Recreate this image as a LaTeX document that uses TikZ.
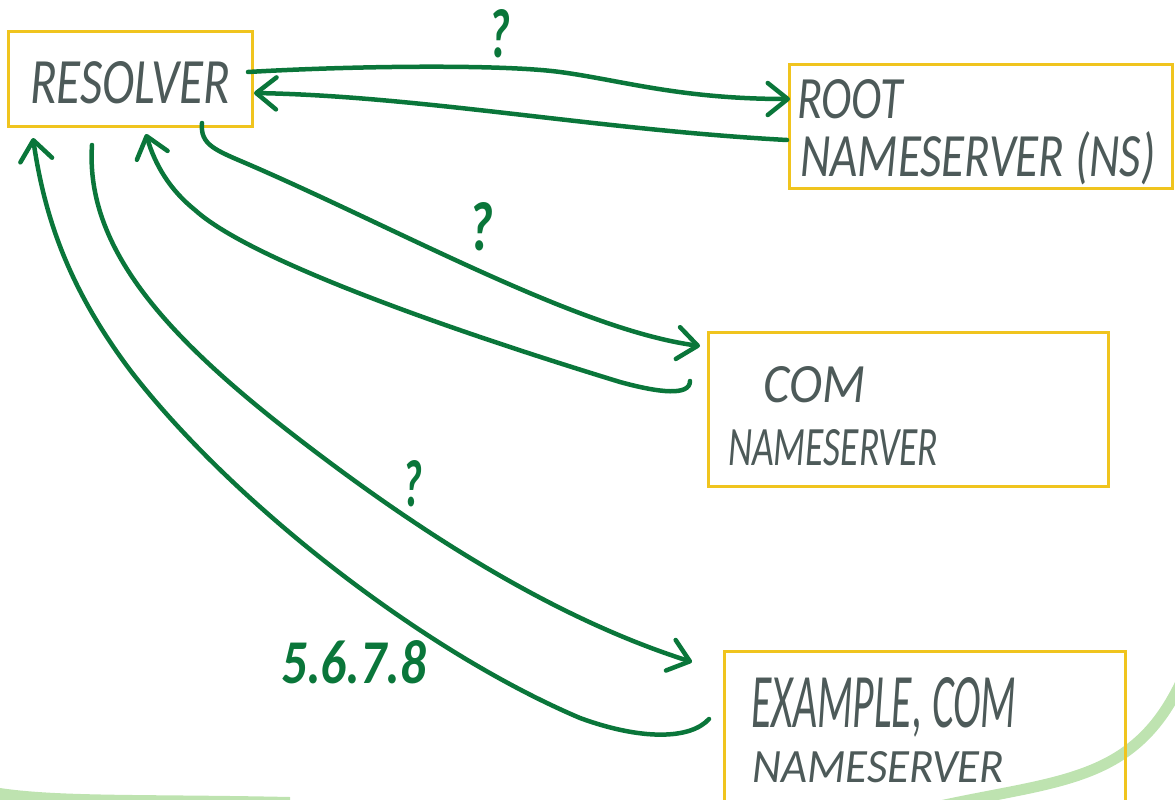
\documentclass[tikz,border=0pt]{standalone}
\usepackage{fontspec}
\usepackage{graphicx}
\newfontfamily\handfont{Carlito}
\usetikzlibrary{arrows.meta}
\definecolor{boxyellow}{RGB}{240,196,30}
\definecolor{ink}{RGB}{77,90,89}
\definecolor{pen}{RGB}{10,118,58}
\definecolor{hilite}{RGB}{190,227,176}
\newcommand{\hw}[3]{\resizebox{#1pt}{#2pt}{\handfont\itshape #3}}
\newcommand{\hwb}[3]{\resizebox{#1pt}{#2pt}{\handfont\itshape\bfseries #3}}
\begin{document}
\begin{tikzpicture}[x=1pt,y=-1pt,
  box/.style={draw=boxyellow,line width=3pt,inner sep=0pt,fill=none},
  txt/.style={text=ink,inner sep=0pt,anchor=base west},
  lbl/.style={text=pen,inner sep=0pt,anchor=base west},
  flow/.style={draw=pen,line width=4.5pt,line cap=round,line join=round,
    -{Straight Barb[length=20pt,width=32pt,round]}}]
\useasboundingbox (0,0) rectangle (1175,800);

% light green highlighter strokes
\fill[hilite] (0,788) .. controls (60,797) and (150,794) .. (290,797) -- (290,800) -- (0,800) -- cycle;
\draw[hilite,line width=11pt,line cap=round] (940,806) .. controls (1060,780) and (1135,782) .. (1182,680);

% boxes
\node[box,minimum width=244pt,minimum height=94pt] (res) at (130,79) {};
\node[box,minimum width=383pt,minimum height=123pt] (root) at (981,126.5) {};
\node[box,minimum width=400pt,minimum height=154pt] (com) at (908,409) {};
\node[box,minimum width=401pt,minimum height=180pt] (ex) at (925,741) {};

% texts
\node[txt] (tres) at (30,103) {\hw{200}{42}{RESOLVER}};
\node[txt] (troot) at (797,118) {\hw{106}{39}{ROOT}};
\node[txt] (troot2) at (800,176) {\hw{355}{45}{NAMESERVER (NS)}};
\node[txt] (tcom) at (763,402) {\hw{102}{36}{COM}};
\node[txt] (tcom2) at (728,465) {\hw{210}{36}{NAMESERVER}};
\node[txt] (tex) at (751,727) {\hw{265}{50}{EXAMPLE, COM}};
\node[txt] (tex2) at (752,782) {\hw{252}{31}{NAMESERVER}};

% green labels
\node[lbl] (q1) at (488,58) {\hwb{22}{48}{?}};
\node[lbl] (q2) at (468,250) {\hwb{25}{48}{?}};
\node[lbl] (q3) at (402,506) {\hwb{20}{46}{?}};
\node[lbl] (ip) at (281,683) {\hwb{145}{43}{5.6.7.8}};

% connector end points
\coordinate (a1s) at (248,72);
\coordinate (a1e) at (790,99);
\coordinate (a2s) at (787,140);
\coordinate (a2e) at (254,93);
\coordinate (a3s) at (202,123);
\coordinate (a3e) at (700,346);
\coordinate (a4s) at (690,381);
\coordinate (a4e) at (146,134);
\coordinate (a5s) at (92,145);
\coordinate (a5e) at (692,662);
\coordinate (a6s) at (709,719);
\coordinate (a6e) at (33,138);

% connectors
\draw[flow] (a1s) .. controls (350,66) and (500,64) .. (560,72) .. controls (620,80) and (680,99) .. (a1e);
\draw[flow] (a2s) .. controls (600,130) and (420,96) .. (a2e);
\draw[flow] (a3s) .. controls (200,145) and (215,150) .. (250,165) .. controls (400,230) and (580,330) .. (a3e);
\draw[flow] (a4s) .. controls (690,396) and (660,393) .. (620,382) .. controls (450,330) and (250,260) .. (195,210) .. controls (170,190) and (155,165) .. (a4e);
\draw[flow] (a5s) .. controls (85,250) and (170,340) .. (300,440) .. controls (430,540) and (560,620) .. (a5e);
\draw[flow] (a6s) .. controls (690,740) and (640,740) .. (580,718) .. controls (420,650) and (230,500) .. (130,370) .. controls (70,290) and (45,220) .. (a6e);
\end{tikzpicture}
\end{document}
